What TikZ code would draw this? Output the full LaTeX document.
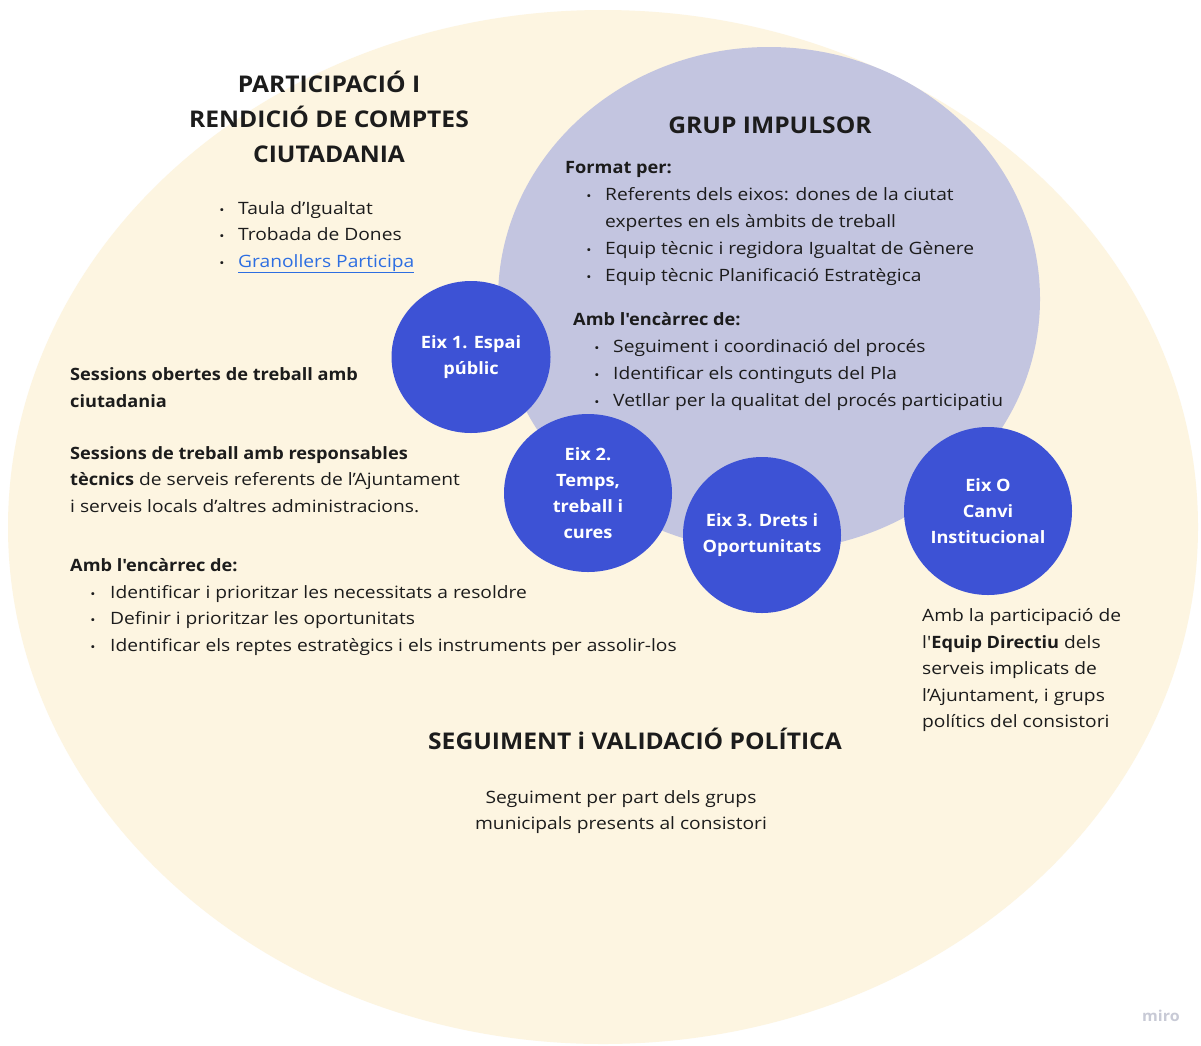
\documentclass[tikz,border=0pt]{standalone}
\usepackage{fontspec}
\setmainfont{Open Sans}[Ligatures=TeXOff, FakeStretch=1.13, BoldFeatures={FakeStretch=1.07}]
\usetikzlibrary{shapes.geometric}
\definecolor{cream}{RGB}{253,245,225}
\definecolor{lav}{RGB}{195,197,224}
\definecolor{eixblue}{RGB}{61,82,213}
\definecolor{ink}{RGB}{28,28,28}
\definecolor{linkblue}{RGB}{45,110,225}
\definecolor{mirogray}{RGB}{200,202,214}
\tikzset{
  body/.style={anchor=base west, inner sep=0pt, text=ink, font=\fontsize{17}{26}\selectfont},
  bodyc/.style={body, anchor=base},
  head/.style={body, font=\fontsize{17}{26}\selectfont\bfseries},
  title/.style={anchor=base, inner sep=0pt, text=ink, font=\fontsize{23}{30}\selectfont\bfseries},
  dot/.style={anchor=base, inner sep=0pt, text=ink, font=\fontsize{12}{20}\selectfont},
  eixdisc/.style={fill=eixblue},
  eixtext/.style={inner sep=0pt, text=white, align=center,
     font=\fontsize{17}{26}\selectfont\bfseries},
}
\begin{document}
\begin{tikzpicture}[x=1pt,y=-1pt]
\useasboundingbox (0,0) rectangle (1201,1045);
\clip (0,0) rectangle (1201,1045);
\fill[white] (0,0) rectangle (1201,1045);
% big cream ellipse
\fill[cream] (603,527) ellipse [x radius=595pt, y radius=517pt];
% lavender group
\fill[lav] (769,299) ellipse [x radius=271pt, y radius=252pt];

% left title
\node[title] (pt1) at (329,92) {PARTICIPACIÓ I};
\node[title] (pt2) at (329,127) {RENDICIÓ DE COMPTES};
\node[title] (pt3) at (329,162) {CIUTADANIA};
\node[dot] (pb1) at (222,214) {•};
\node[body] (pl1) at (238,214) {Taula d’Igualtat};
\node[dot] (pb2) at (222,240) {•};
\node[body] (pl2) at (238,240) {Trobada de Dones};
\node[dot] (pb3) at (222,267) {•};
\node[body, text=linkblue] (pl3) at (238,267) {\underline{Granollers Participa}};

% grup impulsor
\node[title] (gi) at (770,133) {GRUP IMPULSOR};
\node[head] (fp) at (565,173) {Format per:};
\node[dot] (fb1) at (589,200) {•};
\node[body] (f1) at (605,200) {Referents dels eixos: dones de la ciutat};
\node[body] (f1b) at (605,227) {expertes en els àmbits de treball};
\node[dot] (fb2) at (589,254) {•};
\node[body] (f2) at (605,254) {Equip tècnic i regidora Igualtat de Gènere};
\node[dot] (fb3) at (589,281) {•};
\node[body] (f3) at (605,281) {Equip tècnic Planificació Estratègica};
\node[head] (ae) at (573,325) {Amb l'encàrrec de:};
\node[dot] (ab1) at (597,352) {•};
\node[body] (a1) at (613,352) {Seguiment i coordinació del procés};
\node[dot] (ab2) at (597,379) {•};
\node[body] (a2) at (613,379) {Identificar els continguts del Pla};
\node[dot] (ab3) at (597,406) {•};
\node[body] (a3) at (613,406) {Vetllar per la qualitat del procés participatiu};

% left sessions
\node[head] (s1) at (70,380) {Sessions obertes de treball amb};
\node[head] (s1b) at (70,407) {ciutadania};
\node[head] (s2) at (70,459) {Sessions de treball amb responsables};
\node[body] (s2b) at (70,485) {\textbf{tècnics} de serveis referents de l’Ajuntament};
\node[body] (s2c) at (70,512) {i serveis locals d’altres administracions.};
\node[head] (le) at (70,571) {Amb l'encàrrec de:};
\node[dot] (lb1) at (93,598) {•};
\node[body] (l1) at (110,598) {Identificar i prioritzar les necessitats a resoldre};
\node[dot] (lb2) at (93,624) {•};
\node[body] (l2) at (110,624) {Definir i prioritzar les oportunitats};
\node[dot] (lb3) at (93,651) {•};
\node[body] (l3) at (110,651) {Identificar els reptes estratègics i els instruments per assolir-los};

% eix circles
\fill[eixdisc] (471,357) ellipse [x radius=79.5pt, y radius=76pt];
\node[eixtext] (e1) at (471,357) {Eix 1. Espai\\públic};
\fill[eixdisc] (588,493) ellipse [x radius=84pt, y radius=79pt];
\node[eixtext] (e2) at (588,493) {Eix 2.\\Temps,\\treball i\\cures};
\fill[eixdisc] (762,535) ellipse [x radius=79pt, y radius=78pt];
\node[eixtext] (e3) at (762,535) {Eix 3. Drets i\\Oportunitats};
\fill[eixdisc] (988,511) ellipse [x radius=84pt, y radius=84pt];
\node[eixtext] (e0) at (988,511) {Eix O\\Canvi\\Institucional};

% eix O text
\node[body] (o1) at (922,621) {Amb la participació de};
\node[body] (o2) at (922,648) {l'\textbf{Equip Directiu} dels};
\node[body] (o3) at (922,674) {serveis implicats de};
\node[body] (o4) at (922,701) {l’Ajuntament, i grups};
\node[body] (o5) at (922,727) {polítics del consistori};

% seguiment
\node[title] (sv) at (635,749) {SEGUIMENT i VALIDACIÓ POLÍTICA};
\node[bodyc] (sv1) at (621,803) {Seguiment per part dels grups};
\node[bodyc] (sv2) at (621,829) {municipals presents al consistori};

% miro
\node[anchor=base, inner sep=0pt, text=mirogray, font=\fontsize{15}{18}\selectfont\bfseries] (miro) at (1161,1021) {miro};
\end{tikzpicture}
\end{document}
